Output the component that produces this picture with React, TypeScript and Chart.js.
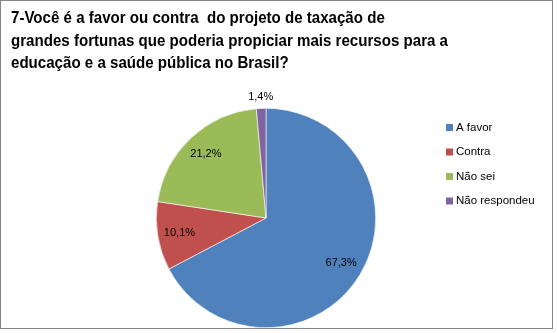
import React, { useEffect, useRef } from "react";
import { Chart, registerables } from "chart.js";

Chart.register(...registerables);

const titleLines = [
  "7-Você é a favor ou contra  do projeto de taxação de",
  "grandes fortunas que poderia propiciar mais recursos para a",
  "educação e a saúde pública no Brasil?",
];
const categories = ["A favor", "Contra", "Não sei", "Não respondeu"];
const values = [67.3, 10.1, 21.2, 1.4];
const colors = ["#4F81BD", "#C0504D", "#9BBB59", "#8064A2"];

const fmt = (v: number) => v.toFixed(1).replace(".", ",") + "%";

const decorPlugin = {
  id: "decor",
  afterDraw(chart: any) {
    const ctx = chart.ctx as CanvasRenderingContext2D;
    ctx.save();
    // frame
    ctx.strokeStyle = "#868686";
    ctx.lineWidth = 1;
    ctx.strokeRect(0.5, 0.5, 552, 328);

    // title
    ctx.fillStyle = "#000";
    ctx.font = 'bold 16.5px "Liberation Sans", Arial, sans-serif';
    ctx.textBaseline = "alphabetic";
    ctx.textAlign = "left";
    let maxW = 0;
    titleLines.forEach((l) => (maxW = Math.max(maxW, ctx.measureText(l).width)));
    const sx = Math.min(1, 437 / maxW);
    titleLines.forEach((l, i) => {
      ctx.save();
      ctx.translate(11, 23 + i * 22.5);
      ctx.scale(sx, 1);
      ctx.fillText(l, 0, 0);
      ctx.restore();
    });

    // data labels
    const meta = chart.getDatasetMeta(0);
    ctx.font = '11px "Liberation Sans", Arial, sans-serif';
    ctx.textAlign = "center";
    ctx.textBaseline = "middle";
    ctx.fillStyle = "#000";
    meta.data.forEach((arc: any, i: number) => {
      const p = arc.getProps(["x", "y", "startAngle", "endAngle", "outerRadius"], true);
      const mid = (p.startAngle + p.endAngle) / 2;
      const small = values[i] < 3;
      const r = small ? p.outerRadius + 11 : p.outerRadius * 0.8;
      const tx = p.x + Math.cos(mid) * r;
      const ty = p.y + Math.sin(mid) * r;
      ctx.fillText(fmt(values[i]), tx, ty);
    });

    // legend
    ctx.font = '11.5px "Liberation Sans", Arial, sans-serif';
    ctx.textAlign = "left";
    ctx.textBaseline = "middle";
    categories.forEach((c, i) => {
      const y = 127.5 + i * 24.5;
      ctx.fillStyle = colors[i];
      ctx.fillRect(446, y - 3.5, 7, 7);
      ctx.fillStyle = "#000";
      ctx.fillText(c, 456, y);
    });
    ctx.restore();
  },
};

export default function App() {
  const ref = useRef<HTMLCanvasElement>(null);
  useEffect(() => {
    document.body.style.margin = "0";
    const chart = new Chart(ref.current!, {
      type: "pie",
      data: {
        labels: categories,
        datasets: [
          {
            data: values,
            backgroundColor: colors,
            borderColor: "#ffffff",
            borderWidth: 0.6,
          },
        ],
      },
      options: {
        animation: false,
        responsive: false,
        maintainAspectRatio: false,
        events: [],
        layout: { padding: { left: 156, top: 108, right: 181, bottom: 5 } },
        plugins: {
          legend: { display: false },
          title: { display: false },
          tooltip: { enabled: false },
        },
      },
      plugins: [decorPlugin],
    });
    return () => chart.destroy();
  }, []);
  return (
    <div style={{ position: "absolute", left: 0, top: 0, width: 557, height: 333, background: "#fff" }}>
      <canvas ref={ref} width={557} height={333} style={{ width: 557, height: 333, display: "block" }} />
    </div>
  );
}
